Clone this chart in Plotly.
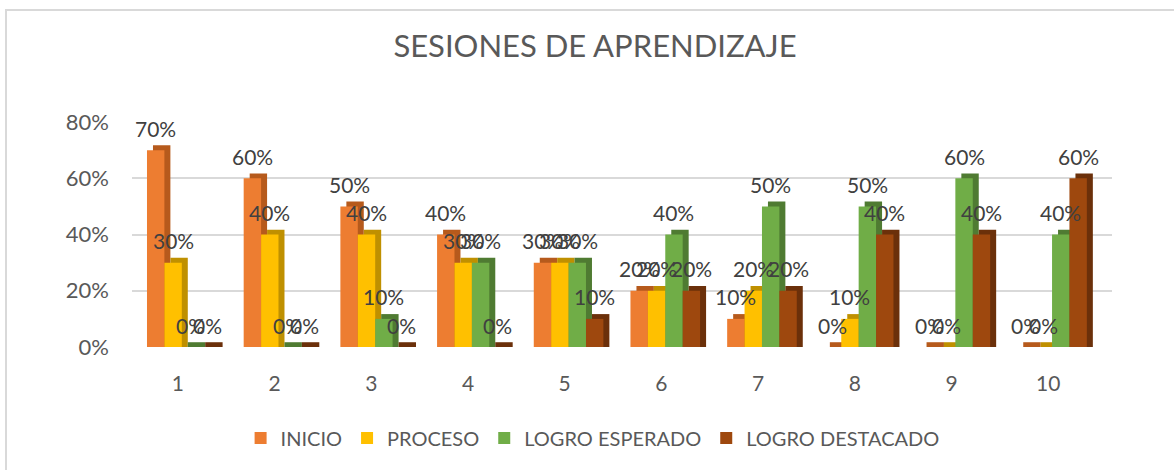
import plotly.graph_objects as go

sessions = [1, 2, 3, 4, 5, 6, 7, 8, 9, 10]
tick_labels = ["1", "2", "3", "4", "5", "6", "7", "8", "9", "10"]
inicio = [70, 60, 50, 40, 30, 20, 10, 0, 0, 0]
proceso = [30, 40, 40, 30, 30, 20, 20, 10, 0, 0]
logro_esperado = [0, 0, 10, 30, 30, 40, 50, 50, 60, 40]
logro_destacado = [0, 0, 0, 0, 10, 20, 20, 40, 40, 60]

series_names = ["INICIO", "PROCESO", "LOGRO ESPERADO", "LOGRO DESTACADO"]
series_values = [inicio, proceso, logro_esperado, logro_destacado]
face_colors = ["#ED7D31", "#FFC000", "#70AD47", "#9E480E"]
side_colors = ["#B65A1C", "#BF9000", "#4F7B32", "#6B300A"]

FONT = "Lato"
BAR_W = 0.18
OFFSETS = [-0.32, -0.14, 0.04, 0.22]
DX = 0.062   # depth offset (x units)
DY = 0.017   # depth offset (y units)

fig = go.Figure()
annotations = []
for name, vals, fc, sc, off in zip(series_names, series_values, face_colors, side_colors, OFFSETS):
    frac = [v / 100 for v in vals]
    # depth (3D side/top) face
    fig.add_trace(go.Bar(
        x=sessions, y=[f + DY for f in frac], base=0,
        offset=off + DX, width=BAR_W,
        marker=dict(color=sc, line=dict(width=0)),
        showlegend=False, hoverinfo="skip",
    ))
    # front face
    fig.add_trace(go.Bar(
        x=sessions, y=frac, name=name,
        offset=off, width=BAR_W,
        marker=dict(color=fc, line=dict(width=0)),
        hoverinfo="skip",
    ))
    for s, f, v in zip(sessions, frac, vals):
        annotations.append(dict(
            x=s + off + BAR_W / 2, y=f, xref="x", yref="y",
            text=f"{v}%", showarrow=False, yanchor="middle", yshift=22,
            font=dict(family=FONT, size=21, color="#404040"),
        ))

L, R, T, B = 132, 62, 122, 123
W, H = 1174, 470
pw, ph = W - L - R, H - T - B

shapes = [dict(
    type="rect", xref="paper", yref="paper",
    x0=(6 - L) / pw, x1=(W + 10 - L) / pw,
    y0=(H - B - (H + 10)) / ph, y1=(H - B - 10) / ph,
    line=dict(color="#D9D9D9", width=2), fillcolor="rgba(0,0,0,0)", layer="below",
)]

fig.update_layout(
    width=W, height=H,
    margin=dict(l=L, r=R, t=T, b=B),
    barmode="overlay",
    paper_bgcolor="white", plot_bgcolor="white",
    title=dict(text="SESIONES DE APRENDIZAJE", x=595 / W, xref="container", xanchor="center",
               y=1 - 46 / H, yanchor="middle",
               font=dict(family=FONT, size=31, color="#595959")),
    xaxis=dict(range=[0.525, 10.66], tickmode="array", tickvals=sessions, ticktext=tick_labels,
               showgrid=False, zeroline=False, showline=False, ticks="",
               tickfont=dict(family=FONT, size=21, color="#595959"),
               ticklabelstandoff=22),
    yaxis=dict(range=[0, 0.8], dtick=0.2, tickformat=".0%",
               showgrid=True, gridcolor="#D9D9D9", gridwidth=2,
               zeroline=False, showline=False, ticks="",
               tickfont=dict(family=FONT, size=22, color="#595959"),
               ticklabelstandoff=22),
    legend=dict(orientation="h", x=0.47, xanchor="center", y=-(438 - (H - B)) / ph, yanchor="middle",
                font=dict(family=FONT, size=20, color="#595959"),
                traceorder="normal", itemsizing="constant"),
    annotations=annotations,
    shapes=shapes,
)

fig.write_html("out.html", config={"displayModeBar": False},
               post_script="document.body.style.margin='0';")
